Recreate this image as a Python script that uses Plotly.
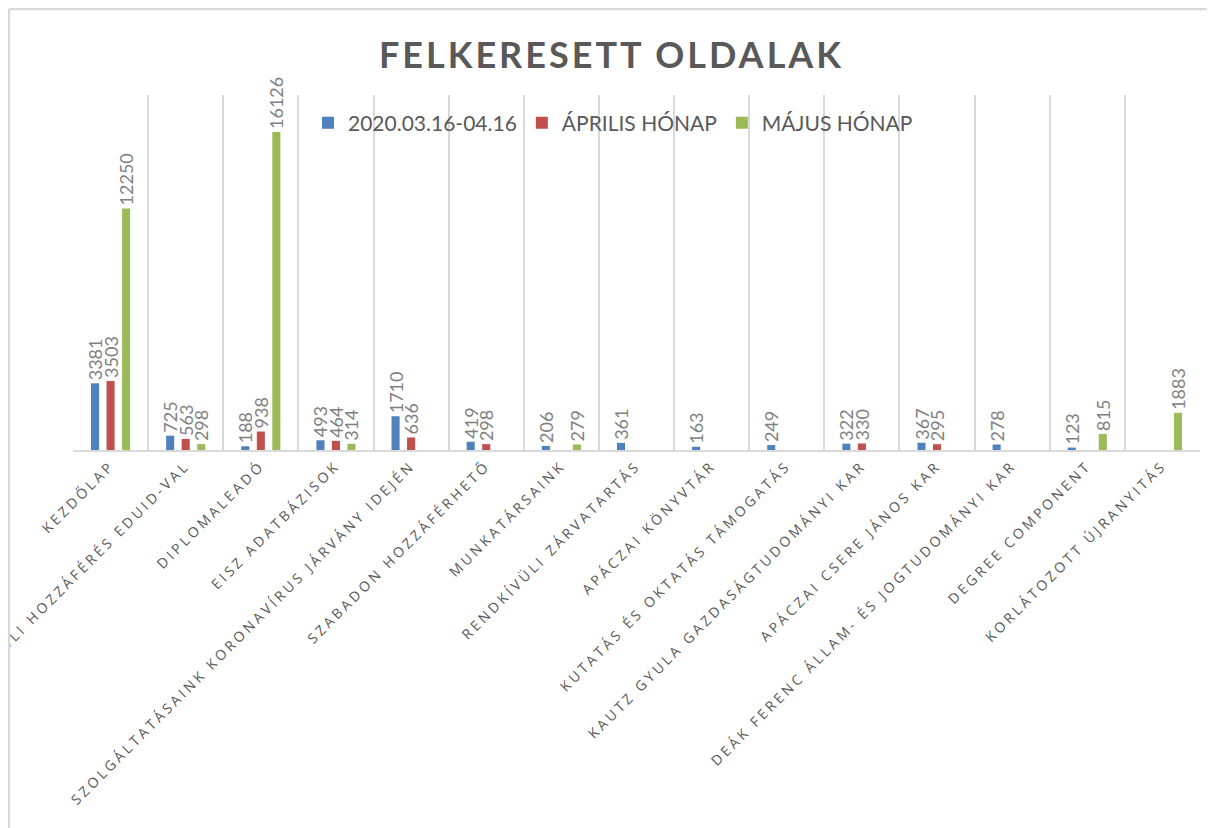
import plotly.graph_objects as go

categories = [
    "KEZDŐLAP",
    "TÁVOLI HOZZÁFÉRÉS EDUID-VAL",
    "DIPLOMALEADÓ",
    "EISZ ADATBÁZISOK",
    "SZOLGÁLTATÁSAINK KORONAVÍRUS JÁRVÁNY IDEJÉN",
    "SZABADON HOZZÁFÉRHETŐ",
    "MUNKATÁRSAINK",
    "RENDKÍVÜLI ZÁRVATARTÁS",
    "APÁCZAI KÖNYVTÁR",
    "KUTATÁS ÉS OKTATÁS TÁMOGATÁS",
    "KAUTZ GYULA GAZDASÁGTUDOMÁNYI KAR",
    "APÁCZAI CSERE JÁNOS KAR",
    "DEÁK FERENC ÁLLAM- ÉS JOGTUDOMÁNYI KAR",
    "DEGREE COMPONENT",
    "KORLÁTOZOTT ÚJRANYITÁS",
]

series_names = ["2020.03.16-04.16", "ÁPRILIS HÓNAP", "MÁJUS HÓNAP"]

period_values = [3381, 725, 188, 493, 1710, 419, 206, 361, 163, 249, 322, 367, 278, 123, None]
april_values = [3503, 563, 938, 464, 636, 298, None, None, None, None, 330, 295, None, None, None]
may_values = [12250, 298, 16126, 314, None, None, 279, None, None, None, None, None, None, 815, 1883]

colors = ["#4f81bd", "#c0504d", "#9bbb59"]

W, H = 1207, 820
ML, MR, MT, MB = 65, 15, 87, 378
PW = W - ML - MR
PH = H - MT - MB

fig = go.Figure()
for name, vals, col in zip(series_names, [period_values, april_values, may_values], colors):
    fig.add_trace(go.Bar(
        x=categories, y=vals, name=name,
        marker=dict(color=col, line=dict(width=0)),
        text=[("" if v is None else str(v)) for v in vals],
        textposition="outside", textangle=-90,
        constraintext="none", cliponaxis=False,
        textfont=dict(family="Lato", size=18, color="#7f7f7f"),
    ))

fig.update_layout(
    width=W, height=H,
    margin=dict(l=ML, r=MR, t=MT, b=MB, autoexpand=False),
    paper_bgcolor="white", plot_bgcolor="white",
    barmode="group", bargap=0.38, bargroupgap=0.48,
    title=dict(text="<b>FELKERESETT OLDALAK</b>", x=0.5, xanchor="center",
               y=1 - 47 / H, yanchor="middle",
               font=dict(family="Lato", size=36, color="#595959")),
    legend=dict(orientation="h", x=(300 - ML) / PW, xanchor="left",
                y=(PH + MT - 115) / PH, yanchor="middle",
                font=dict(family="Lato", size=21, color="#595959"),
                bgcolor="rgba(0,0,0,0)", itemclick=False, traceorder="normal"),
    showlegend=True,
    xaxis=dict(
        tickson="boundaries", showgrid=True, gridcolor="#d9d9d9", gridwidth=1.5,
        showline=True, linecolor="#d9d9d9", linewidth=2, ticks="",
        tickangle=-45, automargin=False,
        tickfont=dict(family="Open Sans", size=14, color="#595959"),
    ),
    yaxis=dict(range=[0, 18000], visible=False, showgrid=False, zeroline=False),
    shapes=[
        dict(type="line", xref="paper", yref="paper",
             x0=(1 - ML) / PW, x1=(1 - ML) / PW, y0=-MB / PH, y1=(PH + MT - 1) / PH,
             line=dict(color="#d9d9d9", width=2.5)),
        dict(type="line", xref="paper", yref="paper",
             x0=(1 - ML) / PW, x1=(W - ML) / PW, y0=(PH + MT - 1) / PH, y1=(PH + MT - 1) / PH,
             line=dict(color="#d9d9d9", width=2.5)),
    ],
)

post = """
var gd = document.getElementById('{plot_id}');
function spacing(){
  gd.querySelectorAll('.xtick text').forEach(function(t){ t.setAttribute('letter-spacing','3.2px'); });
  gd.querySelectorAll('.gtitle').forEach(function(t){ t.setAttribute('letter-spacing','3px'); });
}
spacing();
gd.on('plotly_afterplot', spacing);
"""

fig.write_html("out.html", post_script=post)
